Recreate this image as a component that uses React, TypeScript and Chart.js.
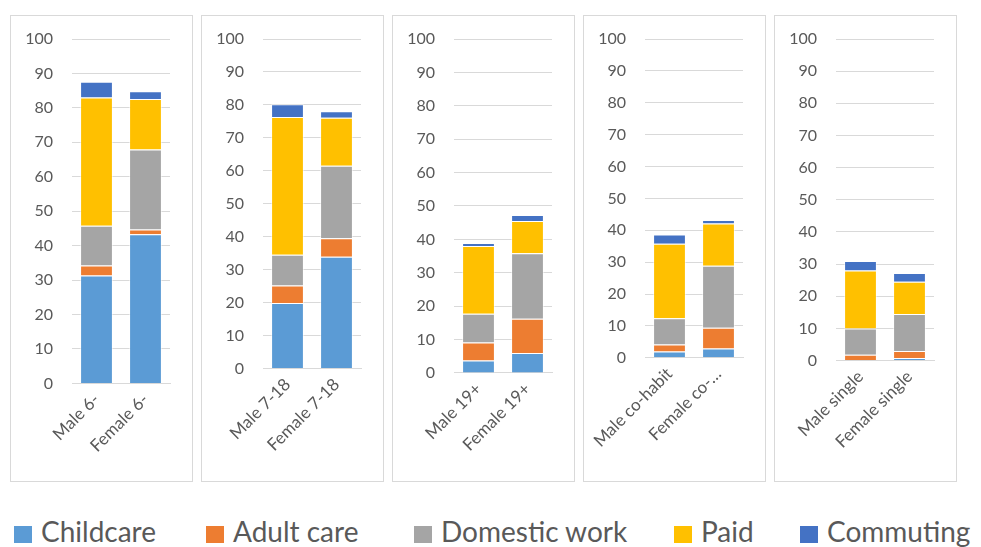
import React, { useEffect, useRef } from "react";
import { Chart, registerables } from "chart.js";

Chart.register(...registerables);

const seriesNames = ["Childcare", "Adult care", "Domestic work", "Paid", "Commuting"];
const seriesColors = ["#5B9BD5", "#ED7D31", "#A5A5A5", "#FFC000", "#4472C4"];

const panelCategories = [
  ["Male 6-", "Female 6-"],
  ["Male 7-18", "Female 7-18"],
  ["Male 19+", "Female 19+"],
  ["Male co-habit", "Female co-…"],
  ["Male single", "Female single"],
];

const childcare = [[31.3, 43.3], [19.9, 33.9], [3.7, 6.0], [2.0, 2.9], [0.2, 0.8]];
const adultCare = [[2.9, 1.4], [5.3, 5.6], [5.4, 10.2], [2.2, 6.5], [1.6, 2.2]];
const domesticWork = [[11.6, 23.2], [9.3, 22.0], [8.6, 19.6], [8.2, 19.5], [8.2, 11.5]];
const paid = [[37.2, 14.7], [41.8, 14.6], [20.3, 9.7], [23.4, 13.2], [18.0, 10.0]];
const commuting = [[4.6, 2.2], [3.9, 2.0], [0.9, 1.8], [2.9, 1.1], [3.0, 2.7]];

const yMin = 0;
const yMax = 100;
const yStep = 10;

const seriesValues = [childcare, adultCare, domesticWork, paid, commuting];

const PANEL_W = 183;
const PANEL_H = 467;
const PANEL_LEFTS = [10, 201, 392, 583, 774];
const PANEL_TOP = 15;
const PANEL_BOTTOM_PAD = [19, 20, 20, 24, 23];
const LEGEND_LEFTS = [14, 206, 414, 674, 800];
const FONT = "Lato, 'Open Sans', sans-serif";
const TEXT_COLOR = "#595959";
const GRID_COLOR = "#D9D9D9";

function Panel({ index }: { index: number }) {
  const ref = useRef<HTMLCanvasElement | null>(null);
  useEffect(() => {
    if (!ref.current) return;
    const chart = new Chart(ref.current, {
      type: "bar",
      data: {
        labels: panelCategories[index],
        datasets: seriesNames.map((name, s) => ({
          label: name,
          data: seriesValues[s][index],
          backgroundColor: seriesColors[s],
          borderColor: "rgba(255,255,255,0.55)",
          borderWidth: 1,
          barPercentage: 0.67,
          categoryPercentage: 1,
        })),
      },
      options: {
        animation: false,
        responsive: false,
        maintainAspectRatio: false,
        layout: { padding: { left: 14, right: 22, top: 23, bottom: PANEL_BOTTOM_PAD[index] } },
        plugins: { legend: { display: false }, tooltip: { enabled: false } },
        scales: {
          x: {
            stacked: true,
            grid: { display: false, drawTicks: false },
            border: { display: true, color: GRID_COLOR, width: 1 },
            afterFit: (scale: any) => {
              scale.paddingLeft = 0;
              scale.paddingRight = 0;
            },
            ticks: {
              autoSkip: false,
              minRotation: 45,
              maxRotation: 45,
              padding: 6,
              color: TEXT_COLOR,
              font: { family: FONT, size: 17 },
            },
          },
          y: {
            stacked: true,
            min: yMin,
            max: yMax,
            grid: { color: GRID_COLOR, lineWidth: 1, drawTicks: false },
            border: { display: false },
            afterFit: (scale: any) => {
              scale.width = 47;
              scale.paddingTop = 0;
              scale.paddingBottom = 0;
            },
            ticks: {
              stepSize: yStep,
              padding: 19,
              color: TEXT_COLOR,
              font: { family: FONT, size: 16 },
            },
          },
        },
      },
    });
    return () => chart.destroy();
  }, [index]);
  return (
    <div
      style={{
        position: "absolute",
        left: PANEL_LEFTS[index],
        top: PANEL_TOP,
        width: PANEL_W,
        height: PANEL_H,
        border: `1px solid ${GRID_COLOR}`,
        boxSizing: "border-box",
        background: "#fff",
      }}
    >
      <canvas ref={ref} width={PANEL_W - 2} height={PANEL_H - 2} style={{ display: "block" }} />
    </div>
  );
}

export default function App() {
  return (
    <div
      style={{
        position: "absolute",
        left: 0,
        top: 0,
        width: 981,
        height: 547,
        overflow: "hidden",
        background: "#fff",
        fontFamily: FONT,
      }}
    >
      {panelCategories.map((_, i) => (
        <Panel key={i} index={i} />
      ))}
      {seriesNames.map((name, s) => (
        <div key={name}>
          <div
            style={{
              position: "absolute",
              left: LEGEND_LEFTS[s],
              top: 526,
              width: 18,
              height: 17,
              background: seriesColors[s],
            }}
          />
          <div
            style={{
              position: "absolute",
              left: LEGEND_LEFTS[s] + 27,
              top: 517,
              fontSize: 28,
              lineHeight: "28px",
              color: TEXT_COLOR,
              whiteSpace: "nowrap",
            }}
          >
            {name}
          </div>
        </div>
      ))}
    </div>
  );
}
